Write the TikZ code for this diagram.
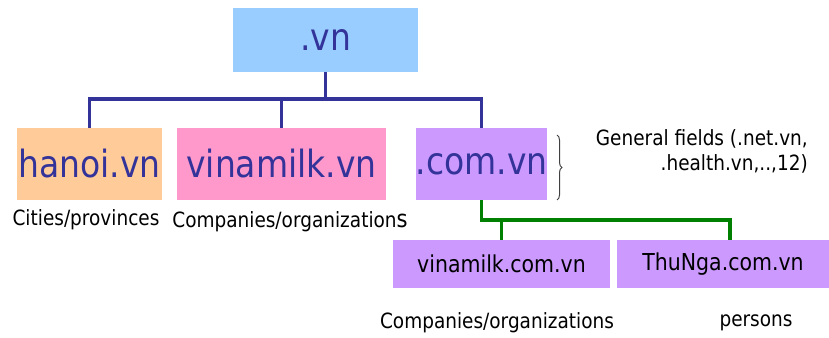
\documentclass[tikz,border=0pt]{standalone}
\usepackage{fontspec}
\setmainfont{DejaVu Sans}[FakeStretch=0.88]
\usetikzlibrary{decorations.pathreplacing}

\definecolor{vnblue}{HTML}{333399}
\definecolor{vngreen}{HTML}{008000}
\definecolor{rootfill}{HTML}{99CCFF}
\definecolor{cityfill}{HTML}{FFCC99}
\definecolor{compfill}{HTML}{FF99CC}
\definecolor{genfill}{HTML}{CC99FF}

\newcommand{\bigfs}{\fontsize{37.5}{40}\selectfont}
\newcommand{\smallfs}{\fontsize{23.3}{26}\selectfont}
\newcommand{\labfs}{\fontsize{21}{25}\selectfont}
\newcommand{\dn}{\node[rectangle, inner sep=0pt, minimum height=72, text=vnblue, font=\bigfs]}
\newcommand{\sn}{\node[rectangle, inner sep=0pt, minimum height=48, fill=genfill, font=\smallfs]}
\newcommand{\tn}{\node[inner sep=0pt, font=\labfs]}

\begin{document}
\begin{tikzpicture}[x=1pt, y=-1pt]
            \useasboundingbox (0,0) rectangle (829,337);

            \dn[fill=rootfill, minimum width=185, minimum height=64] (root) at (325.5,40) {.vn};
            \dn[fill=cityfill, minimum width=145] (hanoi) at (89.5,164) {hanoi.vn};
            \dn[fill=compfill, minimum width=209] (vinamilk) at (281.5,164) {vinamilk.vn};
            \dn[fill=genfill, minimum width=129] (comvn) at (481.5,164) {.com.vn};
            \sn[minimum width=217] (vcom) at (501.5,264) {vinamilk.com.vn};
            \sn[minimum width=212] (thunga) at (723,264) {ThuNga.com.vn};

            \tn (citylab) at (86,220) {Cities/provinces};
            \tn (complab) at (290,222) {Companies/organization{\fontsize{24}{26}\selectfont s}};
            \tn (vcomlab) at (497,323) {Companies/organizations};
            \tn (perslab) at (756,323) {persons};
            \tn[align=right, anchor=east] (genlab) at (808,151) {General fields (.net.vn,\\.health.vn,..,12)};

            \coordinate (j1) at (325.5,99);
            \coordinate (j2) at (481.5,220);
            \coordinate (j3) at (730,220);
            \coordinate (bt) at (557,135);
            \coordinate (bb) at (557,200);

            \draw[vnblue, line width=3.5]
                (root) -- (j1)
                (hanoi) |- (j1)
                (j1) -| (comvn)
                (vinamilk) -- (vinamilk |- j1)
                ;

            \draw[vngreen, line width=3.5]
                (comvn) -- (j2) -- (j3) -- (j3 |- thunga.north)
                (vcom) -- (vcom |- j2)
                ;

            \draw[black!75, line width=1, decorate, decoration={brace, amplitude=5}] (bt) -- (bb);
        \end{tikzpicture}
\end{document}
